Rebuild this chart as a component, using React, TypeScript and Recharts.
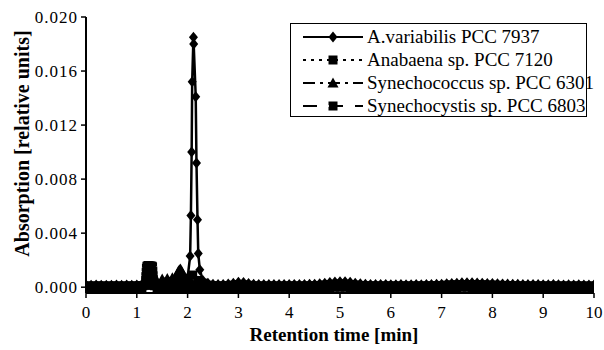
import { LineChart, Line, XAxis, YAxis } from 'recharts';

// retention time grid for the baseline traces (min)
const times = [
  0, 0.1, 0.2, 0.3, 0.4, 0.5, 0.6, 0.7, 0.8, 0.9,
  1, 1.1, 1.2, 1.3, 1.4, 1.5, 1.6, 1.7, 1.8, 1.9,
  2, 2.1, 2.2, 2.3, 2.4, 2.5, 2.6, 2.7, 2.8, 2.9,
  3, 3.1, 3.2, 3.3, 3.4, 3.5, 3.6, 3.7, 3.8, 3.9,
  4, 4.1, 4.2, 4.3, 4.4, 4.5, 4.6, 4.7, 4.8, 4.9,
  5, 5.1, 5.2, 5.3, 5.4, 5.5, 5.6, 5.7, 5.8, 5.9,
  6, 6.1, 6.2, 6.3, 6.4, 6.5, 6.6, 6.7, 6.8, 6.9,
  7, 7.1, 7.2, 7.3, 7.4, 7.5, 7.6, 7.7, 7.8, 7.9,
  8, 8.1, 8.2, 8.3, 8.4, 8.5, 8.6, 8.7, 8.8, 8.9,
  9, 9.1, 9.2, 9.3, 9.4, 9.5, 9.6, 9.7, 9.8, 9.9,
  10,
];

// A.variabilis PCC 7937
const aVarBase = [
  0.00016, 0.00015, 0.00016, 0.00015, 0.00014, 0.00015, 0.00016, 0.00015, 0.00016, 0.00015,
  0.00016, 0.0002, 0.0002, 0.0002, 0.00025, 0.0003, 0.0003, 0.0003, 0.0003, 0.0004,
  0.0007, 0.0009, 0.0006, 0.0005, 0.0003, 0.00022, 0.0002, 0.0002, 0.00024, 0.0003,
  0.00036, 0.00034, 0.00028, 0.00022, 0.0002, 0.00019, 0.0002, 0.00019, 0.0002, 0.0002,
  0.0002, 0.00019, 0.0002, 0.0002, 0.00021, 0.00022, 0.00025, 0.0003, 0.00035, 0.00039,
  0.00041, 0.0004, 0.00036, 0.0003, 0.00025, 0.00022, 0.0002, 0.0002, 0.00019, 0.00019,
  0.00018, 0.00018, 0.00019, 0.00018, 0.00018, 0.00019, 0.00018, 0.00019, 0.0002, 0.00021,
  0.00022, 0.00025, 0.00028, 0.0003, 0.00032, 0.00033, 0.00032, 0.00031, 0.0003, 0.00028,
  0.00027, 0.00026, 0.00024, 0.00023, 0.00022, 0.00021, 0.0002, 0.0002, 0.00019, 0.00019,
  0.00018, 0.00018, 0.00019, 0.00018, 0.00017, 0.00018, 0.00017, 0.00018, 0.00017, 0.00017,
  0.00017,
];
const aVarPeakT = [2.05, 2.065, 2.08, 2.09, 2.115, 2.12, 2.16, 2.175, 2.195, 2.21, 2.24];
const aVarPeakV = [0.0023, 0.0053, 0.0100, 0.0152, 0.0185, 0.0180, 0.0141, 0.0092, 0.0050, 0.0025, 0.0013];

// Anabaena sp. PCC 7120
const anaBase = [
  0.0001, 0.00009, 0.0001, 0.0001, 0.00009, 0.0001, 0.0001, 0.00009, 0.0001, 0.0001,
  0.0001, 0.00012, 0.00015, 0.00018, 0.0002, 0.0002, 0.00022, 0.00025, 0.0003, 0.0004,
  0.0006, 0.0009, 0.0005, 0.0003, 0.00015, 0.00012, 0.0001, 0.0001, 0.00012, 0.00015,
  0.0002, 0.00018, 0.00014, 0.0001, 0.0001, 0.00009, 0.0001, 0.0001, 0.00009, 0.0001,
  0.0001, 0.0001, 0.00009, 0.0001, 0.0001, 0.00011, 0.00013, 0.00016, 0.0002, 0.00022,
  0.00024, 0.00022, 0.0002, 0.00016, 0.00013, 0.00011, 0.0001, 0.0001, 0.00009, 0.0001,
  0.0001, 0.00009, 0.0001, 0.0001, 0.00009, 0.0001, 0.0001, 0.0001, 0.00011, 0.00012,
  0.00013, 0.00015, 0.00017, 0.00018, 0.0002, 0.0002, 0.0002, 0.00019, 0.00018, 0.00016,
  0.00015, 0.00014, 0.00013, 0.00012, 0.00011, 0.0001, 0.0001, 0.0001, 0.00009, 0.0001,
  0.0001, 0.00009, 0.0001, 0.00009, 0.0001, 0.00009, 0.00009, 0.0001, 0.00009, 0.00009,
  0.00009,
];

// Synechococcus sp. PCC 6301
const scBase = [
  0.00003, 0.00002, 0.00003, 0.00004, 0.00003, 0.00002, 0.00003, 0.00003, 0.00002, 0.00003,
  0.00003, 0.0001, 0.00015, 0.0002, 0.00045, 0.0006, 0.00065, 0.0007, 0.001, 0.0011,
  0.0004, 0.00025, 0.00015, 0.0001, 0.00006, 0.00004, 0.00003, 0.00003, 0.00004, 0.00006,
  0.00008, 0.00007, 0.00005, 0.00003, 0.00003, 0.00002, 0.00003, 0.00003, 0.00002, 0.00003,
  0.00003, 0.00003, 0.00002, 0.00003, 0.00004, 0.00004, 0.00006, 0.00008, 0.0001, 0.00012,
  0.00013, 0.00012, 0.0001, 0.00008, 0.00006, 0.00004, 0.00003, 0.00003, 0.00002, 0.00003,
  0.00003, 0.00002, 0.00003, 0.00003, 0.00002, 0.00003, 0.00003, 0.00003, 0.00004, 0.00005,
  0.00006, 0.00007, 0.00008, 0.00009, 0.0001, 0.0001, 0.0001, 0.00009, 0.00008, 0.00007,
  0.00006, 0.00005, 0.00004, 0.00004, 0.00003, 0.00003, 0.00003, 0.00002, 0.00003, 0.00003,
  0.00002, 0.00003, 0.00002, 0.00003, 0.00002, 0.00002, 0.00003, 0.00002, 0.00002, 0.00002,
  0.00002,
];
const scPeakT = [1.76, 1.78, 1.8, 1.82, 1.84, 1.86, 1.88, 1.9, 1.92, 1.94, 1.96];
const scPeakV = [0.0006, 0.0008, 0.001, 0.0012, 0.0013, 0.00135, 0.0012, 0.001, 0.0008, 0.0006, 0.0004];

// Synechocystis sp. PCC 6803
const sycBase = [
  -0.00007, -0.00008, -0.00006, -0.00007, -0.00007, -0.00008, -0.00007, -0.00006, -0.00007, -0.00007,
  -0.00005, -0.00002, 0.0016, 0.0015, -0.00003, -0.00004, -0.00005, -0.00005, -0.00006, -0.00006,
  -0.00006, -0.00006, -0.00007, -0.00007, -0.00008, -0.00008, -0.00007, -0.00007, -0.00006, -0.00005,
  -0.00003, -0.00004, -0.00005, -0.00006, -0.00007, -0.00007, -0.00007, -0.00008, -0.00007, -0.00007,
  -0.00007, -0.00007, -0.00007, -0.00006, -0.00006, -0.00005, -0.00004, -0.00003, -0.00002, -0.00001,
  0, -0.00001, -0.00002, -0.00004, -0.00005, -0.00006, -0.00007, -0.00007, -0.00007, -0.00007,
  -0.00007, -0.00008, -0.00007, -0.00007, -0.00007, -0.00007, -0.00006, -0.00007, -0.00006, -0.00005,
  -0.00004, -0.00003, -0.00002, -0.00002, -0.00001, -0.00001, -0.00002, -0.00002, -0.00003, -0.00004,
  -0.00004, -0.00005, -0.00005, -0.00006, -0.00006, -0.00007, -0.00007, -0.00007, -0.00007, -0.00007,
  -0.00007, -0.00007, -0.00008, -0.00007, -0.00007, -0.00007, -0.00007, -0.00007, -0.00008, -0.00007,
  -0.00007,
];
const sycPeakT = [1.17, 1.175, 1.18, 1.185, 1.19, 1.2, 1.22, 1.24, 1.26, 1.28, 1.3, 1.31, 1.315, 1.32, 1.325, 1.33, 1.35];
const sycPeakV = [0.0002, 0.0005, 0.0008, 0.0011, 0.0014, 0.00155, 0.0016, 0.00158, 0.00156, 0.00156, 0.00155, 0.0015, 0.0012, 0.0009, 0.0006, 0.0003, 0.0001];

const xTicks = [0, 1, 2, 3, 4, 5, 6, 7, 8, 9, 10];
const yTicks = [0, 0.004, 0.008, 0.012, 0.016, 0.02];

// baseline points outside the peak span + the peak points, in time order
function build(base: number[], peakT: number[], peakV: number[]) {
  const lo = peakT.length ? peakT[0] : Infinity;
  const hi = peakT.length ? peakT[peakT.length - 1] : -Infinity;
  const pts = times
    .map((t, i) => ({ t, v: base[i] }))
    .filter((p) => p.t < lo || p.t > hi);
  peakT.forEach((t, i) => pts.push({ t, v: peakV[i] }));
  return pts.sort((a, b) => a.t - b.t);
}

const series = [
  { name: 'A.variabilis PCC 7937', data: build(aVarBase, aVarPeakT, aVarPeakV), dash: undefined, mark: 'diamond' },
  { name: 'Anabaena sp. PCC 7120', data: build(anaBase, [], []), dash: '3 5', mark: 'square' },
  { name: 'Synechococcus sp. PCC 6301', data: build(scBase, scPeakT, scPeakV), dash: '12 5 3 5', mark: 'triangle' },
  { name: 'Synechocystis sp. PCC 6803', data: build(sycBase, sycPeakT, sycPeakV), dash: '14 12', mark: 'bowtie' },
];

const FONT = 'Liberation Serif, DejaVu Serif, Times New Roman, serif';

function markPath(kind: string, cx: number, cy: number) {
  switch (kind) {
    case 'diamond':
      return `M${cx},${cy - 5.5}L${cx + 4.5},${cy}L${cx},${cy + 5.5}L${cx - 4.5},${cy}Z`;
    case 'square':
      return `M${cx - 4.5},${cy - 4.5}H${cx + 4.5}V${cy + 4.5}H${cx - 4.5}Z`;
    case 'triangle':
      return `M${cx},${cy - 5.5}L${cx + 5.5},${cy + 4.5}L${cx - 5.5},${cy + 4.5}Z`;
    default:
      return `M${cx - 4.5},${cy - 4.5}H${cx + 4.5}V${cy - 1}L${cx + 3},${cy}L${cx + 4.5},${cy + 1}V${cy + 4.5}H${cx - 4.5}V${cy + 1}L${cx - 3},${cy}L${cx - 4.5},${cy - 1}Z`;
  }
}

function makeDot(kind: string) {
  return (props: any) => {
    const { cx, cy, index } = props;
    if (cx == null || cy == null) return <g key={index} />;
    return <path key={index} d={markPath(kind, cx, cy)} fill="#000" stroke="none" />;
  };
}

function LegendBox() {
  return (
    <div
      style={{
        position: 'absolute',
        left: 290,
        top: 23,
        width: 297,
        height: 94,
        border: '1.5px solid #000',
        background: '#fff',
        boxSizing: 'border-box',
        padding: '1px 0 0 10px',
        fontFamily: FONT,
        fontSize: 19,
        color: '#000',
      }}
    >
      {series.map((s) => (
        <div key={s.name} style={{ display: 'flex', alignItems: 'center', height: 23 }}>
          <svg width={64} height={14} style={{ marginRight: 2, flex: 'none' }}>
            <line x1={2} y1={7} x2={62} y2={7} stroke="#000" strokeWidth={2} strokeDasharray={s.dash} />
            <path d={markPath(s.mark, 32, 7)} fill="#000" />
          </svg>
          <span style={{ whiteSpace: 'nowrap' }}>{s.name}</span>
        </div>
      ))}
    </div>
  );
}

export default function App() {
  return (
    <div style={{ position: 'absolute', left: 0, top: 0, width: 604, height: 350, background: '#fff' }}>
      <LineChart width={604} height={350} margin={{ top: 17, right: 10, left: 0, bottom: 0 }}>
        <XAxis
          type="number"
          dataKey="t"
          domain={[0, 10]}
          ticks={xTicks}
          allowDataOverflow
          height={57}
          tickSize={5}
          tickMargin={8}
          axisLine={{ stroke: '#000', strokeWidth: 2 }}
          tickLine={{ stroke: '#000', strokeWidth: 1.5 }}
          tick={{ fill: '#000', fontSize: 17, fontFamily: FONT }}
          label={{
            value: 'Retention time [min]',
            content: () => (
              <text x={334} y={341} textAnchor="middle" fill="#000" fontSize={19} fontWeight="bold" fontFamily={FONT}>
                Retention time [min]
              </text>
            ),
          }}
        />
        <XAxis xAxisId="top" orientation="top" type="number" domain={[0, 10]} height={0} tick={false} tickLine={false} axisLine={{ stroke: '#000', strokeWidth: 2 }} />
        <YAxis
          type="number"
          domain={[-0.00043, 0.02]}
          ticks={yTicks}
          allowDataOverflow
          width={86}
          tickSize={5}
          tickMargin={3}
          axisLine={{ stroke: '#000', strokeWidth: 2 }}
          tickLine={{ stroke: '#000', strokeWidth: 1.5 }}
          tick={{ fill: '#000', fontSize: 17, fontFamily: FONT, letterSpacing: 1 }}
          tickFormatter={(v: number) => v.toFixed(3)}
          label={{
            value: 'Absorption [relative units]',
            content: () => (
              <text
                x={22}
                y={143.5}
                transform="rotate(-90 22 143.5)"
                textAnchor="middle"
                dominantBaseline="central"
                fill="#000"
                fontSize={20}
                fontWeight="bold"
                fontFamily={FONT}
              >
                Absorption [relative units]
              </text>
            ),
          }}
        />
        <YAxis yAxisId="right" orientation="right" type="number" domain={[-0.00043, 0.02]} width={0} tick={false} tickLine={false} axisLine={{ stroke: '#000', strokeWidth: 2 }} />
        {series.map((s) => (
          <Line
            key={s.name}
            data={s.data}
            dataKey="v"
            name={s.name}
            type="linear"
            stroke="#000"
            strokeWidth={2.5}
            strokeDasharray={s.dash}
            dot={makeDot(s.mark)}
            activeDot={false}
            isAnimationActive={false}
          />
        ))}
      </LineChart>
      <LegendBox />
    </div>
  );
}
